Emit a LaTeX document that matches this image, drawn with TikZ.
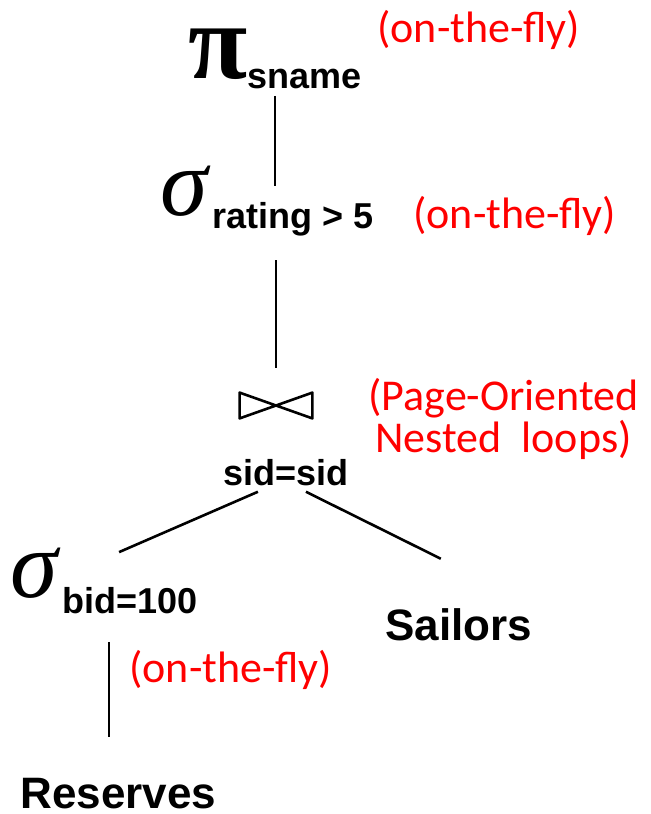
\documentclass[tikz,border=0pt]{standalone}
\usepackage{fontspec}
\setmainfont{Liberation Sans}
\newfontfamily\notefont{Carlito}
\newfontfamily\greekfont{Liberation Serif}
\usetikzlibrary{positioning}

% operator symbols of the plan
\newcommand{\bigpi}{{\greekfont\fontsize{54pt}{54pt}\selectfont π}}
\newcommand{\bigsigma}{{\greekfont\mdseries\itshape\fontsize{48pt}{48pt}\selectfont σ}\hspace{2.5pt}}

\tikzset{
  op/.style={inner sep=0pt, anchor=base west, font=\bfseries\fontsize{18pt}{20pt}\selectfont},
  rel/.style={inner sep=0pt, anchor=base west, font=\bfseries\fontsize{22pt}{24pt}\selectfont},
  note/.style={inner sep=0pt, anchor=base west, text=red, font=\notefont\fontsize{22pt}{19.5pt}\selectfont},
  edge/.style={line width=1.3pt},
}

\begin{document}
\begin{tikzpicture}[x=0.5pt, y=-0.5pt]
\useasboundingbox (0,0) rectangle (651,814);
% operators, top to bottom
\node[op] (proj) at (188,78) {\bigpi\raisebox{-5pt}{sname}};
\node[op] (sel) at (160,215) {\bigsigma\raisebox{-6.5pt}{rating > 5}};
\node[inner sep=0pt, minimum width=36pt, minimum height=12.5pt] (join) at (276,405.5) {};
\draw[edge, line join=round] (join.north west) -- (join.south east) -- (join.north east) -- (join.south west) -- cycle;
\node[op] (cond) at (223,485) {sid=sid};
\node[op] (bsel) at (10,597) {\bigsigma\raisebox{-8pt}{bid=100}};
% base relations
\node[rel] (sailors) at (385,640) {Sailors};
\node[rel] (reserves) at (20,808) {Reserves};
% how each operator is evaluated
\node[note] (fly1) at (377,42) {(on-the-fly)};
\node[note] (fly2) at (413,228) {(on-the-fly)};
\node[note, align=center] (pnl) at (368,452) {(Page-Oriented\\Nested\ \ loops)};
\node[note] (fly3) at (129,682) {(on-the-fly)};
% tree edges
\draw[edge, shorten <=3.5pt, shorten >=-10.5pt] (proj.south) -- (proj.south |- sel.north);
\draw[edge, shorten <=12pt, shorten >=12.5pt] (join.north |- sel.south) -- (join.north);
\draw[edge] ([xshift=-14pt,yshift=-3pt]cond.south) -- ([xshift=7.5pt,yshift=-2.5pt]bsel.north);
\draw[edge] ([xshift=10pt,yshift=-3pt]cond.south) -- ([xshift=-9pt,yshift=24.5pt]sailors.north);
\draw[edge, shorten <=14pt, shorten >=20pt] ([xshift=2.5pt]bsel.south) -- ([xshift=2.5pt]bsel.south |- reserves.north);
\end{tikzpicture}
\end{document}
